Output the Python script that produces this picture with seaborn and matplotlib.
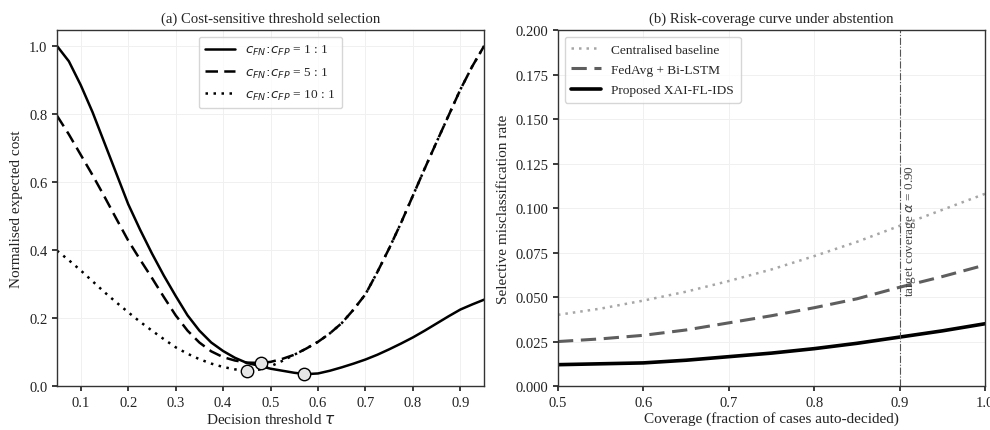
import numpy as np
import pandas as pd
import matplotlib
matplotlib.use("Agg")
import matplotlib.pyplot as plt
import seaborn as sns

# ---------------- data ----------------
tau = [0.050, 0.075, 0.100, 0.125, 0.150, 0.175, 0.200, 0.225, 0.250, 0.275,
       0.300, 0.325, 0.350, 0.375, 0.400, 0.425, 0.450, 0.475, 0.500, 0.525,
       0.550, 0.575, 0.600, 0.625, 0.650, 0.675, 0.700, 0.725, 0.750, 0.775,
       0.800, 0.825, 0.850, 0.875, 0.900, 0.925, 0.950]
cost_1_1 = [1.000, 0.955, 0.885, 0.805, 0.715, 0.625, 0.535, 0.460, 0.390, 0.325,
            0.265, 0.208, 0.163, 0.128, 0.103, 0.083, 0.068, 0.060, 0.051, 0.045,
            0.039, 0.035, 0.037, 0.045, 0.055, 0.066, 0.078, 0.092, 0.108, 0.125,
            0.143, 0.163, 0.184, 0.205, 0.225, 0.240, 0.254]
cost_5_1 = [0.795, 0.740, 0.680, 0.620, 0.557, 0.492, 0.428, 0.372, 0.318, 0.262,
            0.208, 0.163, 0.128, 0.102, 0.085, 0.075, 0.069, 0.068, 0.071, 0.080,
            0.092, 0.110, 0.130, 0.155, 0.185, 0.225, 0.270, 0.335, 0.405, 0.480,
            0.560, 0.640, 0.718, 0.795, 0.872, 0.940, 1.000]
cost_10_1 = [0.398, 0.370, 0.340, 0.308, 0.276, 0.246, 0.217, 0.189, 0.163, 0.138,
             0.114, 0.095, 0.079, 0.066, 0.056, 0.049, 0.045, 0.048, 0.058, 0.074,
             0.092, 0.110, 0.130, 0.155, 0.185, 0.225, 0.270, 0.335, 0.405, 0.480,
             0.560, 0.640, 0.718, 0.795, 0.872, 0.940, 1.000]
cost_labels = [r"$c_{FN}\!:\!c_{FP}$ = 1 : 1", r"$c_{FN}\!:\!c_{FP}$ = 5 : 1",
               r"$c_{FN}\!:\!c_{FP}$ = 10 : 1"]
opt_tau = [0.57, 0.48, 0.45]
opt_cost = [0.035, 0.068, 0.045]

coverage = [0.50, 0.55, 0.60, 0.65, 0.70, 0.75, 0.80, 0.85, 0.90, 0.95, 1.00]
risk_central = [0.040, 0.0435, 0.048, 0.053, 0.059, 0.0655, 0.073, 0.081, 0.090, 0.099, 0.108]
risk_fedavg = [0.025, 0.0265, 0.0285, 0.0315, 0.0355, 0.0395, 0.044, 0.049, 0.0555, 0.0615, 0.068]
risk_proposed = [0.012, 0.0125, 0.013, 0.0145, 0.0165, 0.0185, 0.021, 0.024, 0.0275, 0.031, 0.035]
risk_labels = ["Centralised baseline", "FedAvg + Bi-LSTM", "Proposed XAI-FL-IDS"]
target_cov = 0.90

# ---------------- style ----------------
sns.set_theme(style="whitegrid")
plt.rcParams.update({
    "font.family": ["Liberation Serif", "DejaVu Serif"],
    "mathtext.fontset": "dejavusans",
    "axes.edgecolor": "#333333",
    "axes.linewidth": 1.0,
    "grid.color": "#f0f0f0",
    "grid.linewidth": 0.7,
    "xtick.bottom": True,
    "ytick.left": True,
    "xtick.major.size": 3.5,
    "ytick.major.size": 3.5,
    "xtick.color": "#222222",
    "ytick.color": "#222222",
    "xtick.labelsize": 10.5,
    "ytick.labelsize": 10.5,
    "axes.labelcolor": "#222222",
})

fig, (ax1, ax2) = plt.subplots(1, 2, figsize=(9.9, 4.31), dpi=100)
fig.subplots_adjust(left=0.0576, right=0.995, bottom=0.102, top=0.928, wspace=0.173)

# ---- panel (a) ----
dfa = pd.DataFrame({"tau": tau, "c1": cost_1_1, "c5": cost_5_1, "c10": cost_10_1})
styles = [("c1", "-", cost_labels[0]), ("c5", (0, (5, 2.5)), cost_labels[1]),
          ("c10", (0, (1, 2.2)), cost_labels[2])]
for col, ls, lab in styles:
    sns.lineplot(data=dfa, x="tau", y=col, ax=ax1, color="black", lw=1.8,
                 linestyle=ls, label=lab)
ax1.scatter(opt_tau, opt_cost, s=80, facecolor="#e6e6e6", edgecolor="black",
            linewidth=1.0, zorder=5)
ax1.set_xlim(0.05, 0.95)
ax1.set_ylim(0, 1.047)
ax1.set_xticks([0.1, 0.2, 0.3, 0.4, 0.5, 0.6, 0.7, 0.8, 0.9])
ax1.set_yticks([0.0, 0.2, 0.4, 0.6, 0.8, 1.0])
ax1.set_xlabel(r"Decision threshold $\tau$", fontsize=11, labelpad=2)
ax1.set_ylabel("Normalised expected cost", fontsize=11, labelpad=4)
ax1.set_title("(a) Cost-sensitive threshold selection", fontsize=10.6, pad=6)
leg1 = ax1.legend(loc="upper center", fontsize=9.6, frameon=True, handlelength=2.2,
                  borderpad=0.5, labelspacing=0.6)
leg1.get_frame().set_edgecolor("#cccccc")

# ---- panel (b) ----
dfb = pd.DataFrame({"cov": coverage, "central": risk_central, "fed": risk_fedavg,
                    "prop": risk_proposed})
sns.lineplot(data=dfb, x="cov", y="central", ax=ax2, color="#a6a6a6", lw=1.8,
             linestyle=(0, (1, 2)), label=risk_labels[0])
sns.lineplot(data=dfb, x="cov", y="fed", ax=ax2, color="#5e5e5e", lw=2.2,
             linestyle=(0, (5, 2.5)), label=risk_labels[1])
sns.lineplot(data=dfb, x="cov", y="prop", ax=ax2, color="black", lw=2.6,
             linestyle="-", label=risk_labels[2])
ax2.axvline(target_cov, color="#555555", lw=0.8, linestyle="-.")
ax2.text(target_cov + 0.004, 0.0505, r"target coverage $\alpha$ = 0.90", rotation=90,
         ha="left", va="bottom", fontsize=9.5, color="#444444")
ax2.set_xlim(0.5, 1.0)
ax2.set_ylim(0, 0.2)
ax2.set_xticks([0.5, 0.6, 0.7, 0.8, 0.9, 1.0])
ax2.set_yticks([0.0, 0.025, 0.05, 0.075, 0.1, 0.125, 0.15, 0.175, 0.2])
ax2.set_yticklabels(["0.000", "0.025", "0.050", "0.075", "0.100", "0.125", "0.150",
                     "0.175", "0.200"])
ax2.set_xlabel("Coverage (fraction of cases auto-decided)", fontsize=11, labelpad=2)
ax2.set_ylabel("Selective misclassification rate", fontsize=11, labelpad=4)
ax2.set_title("(b) Risk-coverage curve under abstention", fontsize=10.6, pad=6)
leg2 = ax2.legend(loc="upper left", fontsize=9.6, frameon=True, handlelength=2.2,
                  borderpad=0.5, labelspacing=0.6)
leg2.get_frame().set_edgecolor("#cccccc")

for ax in (ax1, ax2):
    for s in ax.spines.values():
        s.set_visible(True)
        s.set_color("#333333")

fig.savefig("out.png", dpi=100)
